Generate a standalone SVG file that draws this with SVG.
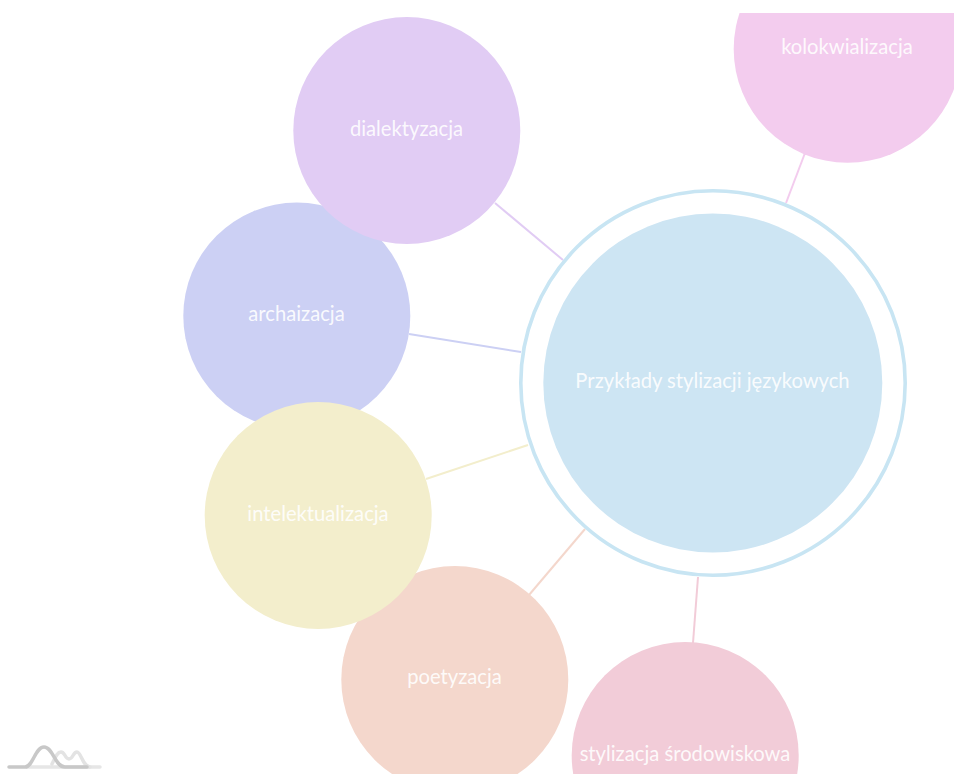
<svg xmlns="http://www.w3.org/2000/svg" width="954" height="774" viewBox="0 0 954 774">
<style>
text{font-family:Lato,"Noto Sans",sans-serif;font-size:20.200px;fill:#fff;fill-opacity:.9;text-anchor:middle}
.l{stroke-width:2;fill:none}
.logo{fill:none;stroke-width:3.500;stroke-linecap:round;stroke-linejoin:round}
</style>
<defs><clipPath id="top"><rect x="0" y="13" width="954" height="761"/></clipPath></defs>
<rect width="954" height="774" fill="#fff"/>
<g id="connectors">
<line class="l" x1="495" y1="203" x2="563" y2="260" stroke="#e1ccf4"/>
<line class="l" x1="409" y1="334" x2="521" y2="352" stroke="#ccd0f4"/>
<line class="l" x1="426" y1="479" x2="528" y2="445" stroke="#f3eecc"/>
<line class="l" x1="529" y1="595" x2="585" y2="529" stroke="#f4d7cc"/>
<line class="l" x1="693" y1="643" x2="698" y2="577" stroke="#f2ccd8"/>
<line class="l" x1="805" y1="153" x2="786" y2="203" stroke="#f3ccee"/>
</g>
<g id="node-archaizacja"><circle cx="296.800" cy="316" r="113.500" fill="#ccd0f4"/><text x="296.500" y="321">archaizacja</text></g>
<g id="node-dialektyzacja"><circle cx="406.800" cy="130.500" r="113.500" fill="#e1ccf4"/><text x="406.500" y="136">dialektyzacja</text></g>
<g id="node-poetyzacja"><circle cx="454.800" cy="679.500" r="113.500" fill="#f4d7cc"/><text x="454.500" y="684">poetyzacja</text></g>
<g id="node-intelektualizacja"><circle cx="318.200" cy="515.500" r="113.500" fill="#f3eecc"/><text x="318" y="521">intelektualizacja</text></g>
<g id="node-srodowiskowa"><circle cx="685.200" cy="755.500" r="113.500" fill="#f2ccd8"/><text x="685" y="761">stylizacja środowiskowa</text></g>
<g id="node-kolokwializacja"><circle cx="847.500" cy="49" r="113.800" fill="#f3ccee" clip-path="url(#top)"/><text x="847" y="54">kolokwializacja</text></g>
<g id="node-center"><circle cx="713" cy="383" r="192.200" fill="#fff" stroke="#c8e5f3" stroke-width="3.600"/><circle cx="712.800" cy="383" r="169.500" fill="#cde5f3"/><text x="712.500" y="388">Przykłady stylizacji językowych</text></g>
<g id="logo">
<path class="logo" d="M27 767H100" stroke="#e6e6e6"/>
<path class="logo" d="M52 764C55 758 57 752 61 752C65 752 65 759 69 759C73 759 73 752 77 752C81 752 83 767 90 767" stroke="#e3e3e3"/>
<path class="logo" d="M9 767H25C33 767 35 747 44 747C53 747 55 767 65 767H87" stroke="#c8c8c8"/>
</g>
</svg>
